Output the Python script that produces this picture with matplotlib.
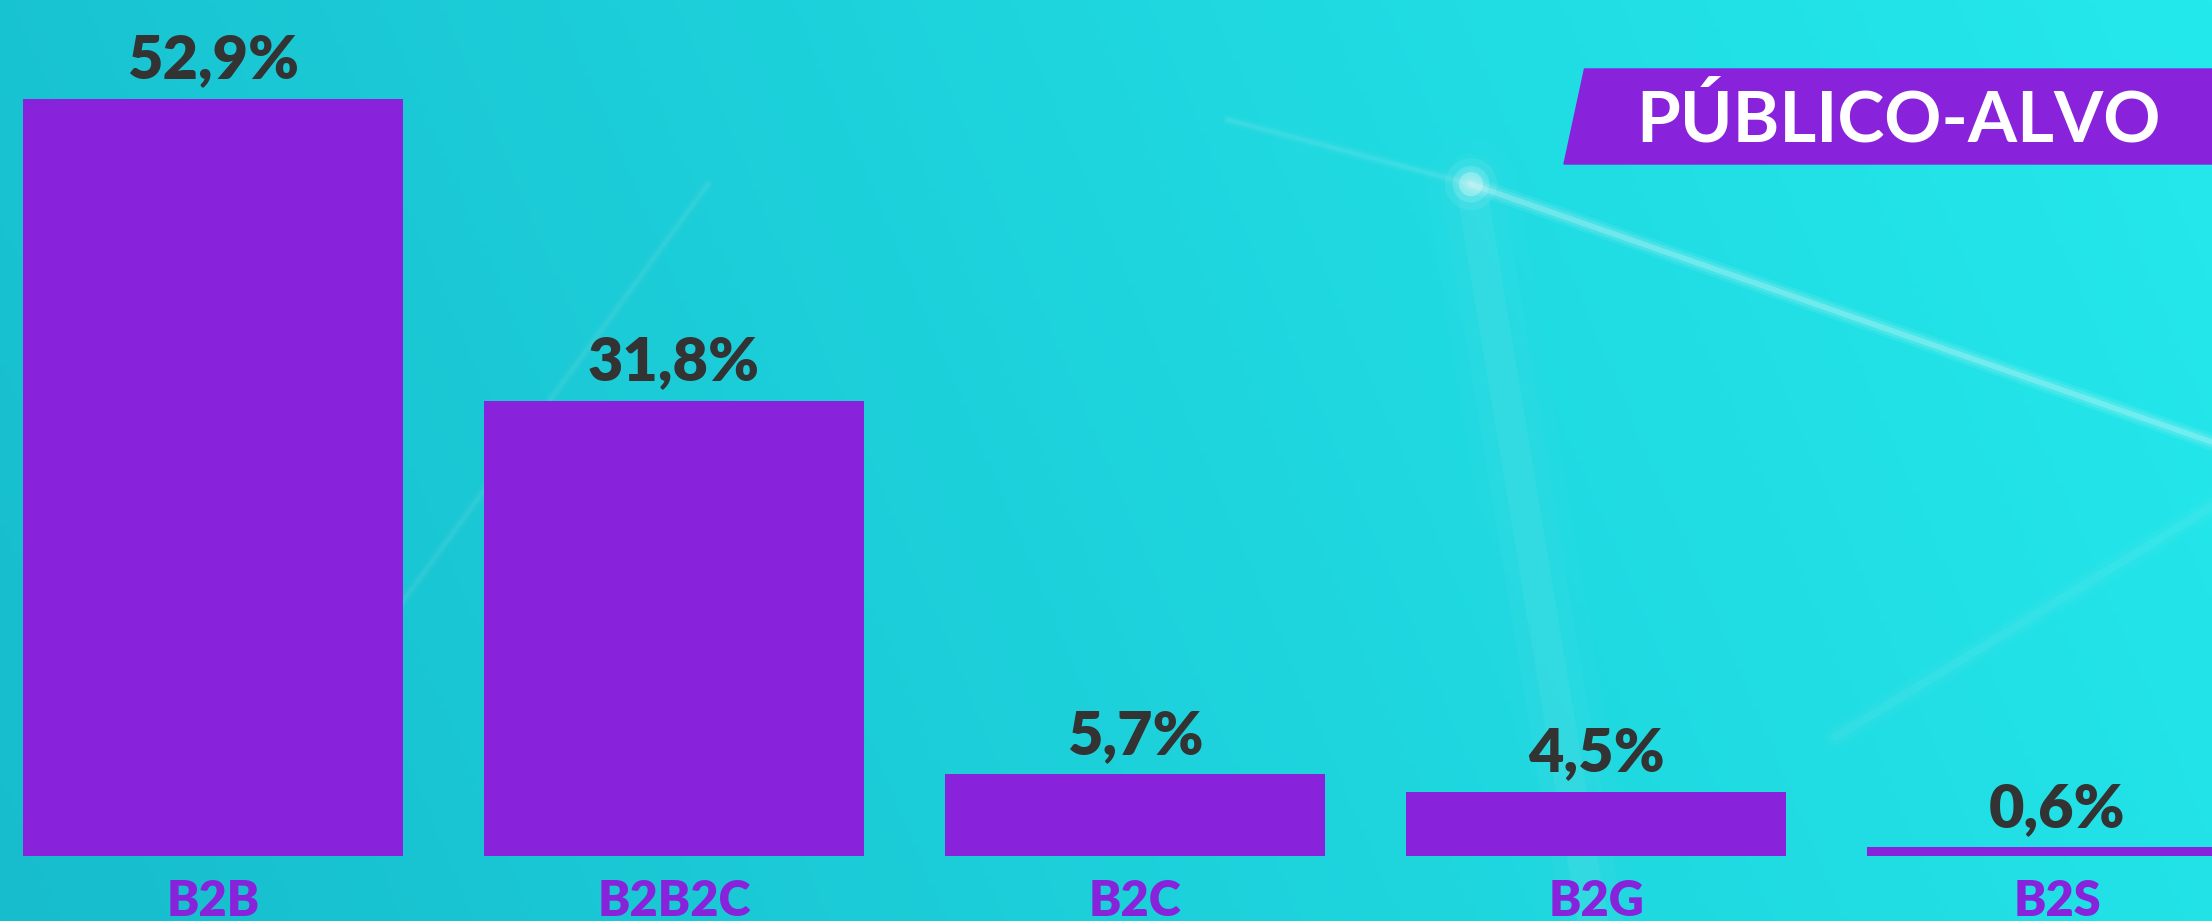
import numpy as np
import matplotlib
matplotlib.use("Agg")
from matplotlib import pyplot as plt
from matplotlib.patches import Polygon

categories = ["B2B", "B2B2C", "B2C", "B2G", "B2S"]
values = [52.9, 31.8, 5.7, 4.5, 0.6]
value_labels = ["52,9%", "31,8%", "5,7%", "4,5%", "0,6%"]
title = "PÚBLICO-ALVO"

purple = "#8823DB"
dark = "#333333"

W, H = 2212, 921
fig = plt.figure(figsize=(W / 100, H / 100), dpi=100)

# background: cyan gradient with a few soft light streaks
bg = fig.add_axes([0, 0, 1, 1], zorder=0)
left = np.array([0x17, 0xBD, 0xCD]) / 255
right = np.array([0x24, 0xE9, 0xEC]) / 255
gx = np.linspace(0, 1, 400)[None, :, None]
gy = np.linspace(0, 1, 200)[:, None, None]
img = left + (right - left) * np.clip(gx * 0.85 + gy * 0.15, 0, 1)
bg.imshow(img, extent=[0, 1, 0, 1], aspect="auto", origin="lower")
bg.set_xlim(0, 1)
bg.set_ylim(0, 1)
bg.axis("off")
streaks = [((0.665, 0.80), (1.0, 0.52), 4, 0.22),
           ((0.665, 0.80), (0.72, 0.0), 22, 0.05),
           ((0.665, 0.80), (0.555, 0.87), 3, 0.07),
           ((0.18, 0.34), (0.32, 0.80), 3, 0.05),
           ((1.0, 0.45), (0.83, 0.20), 6, 0.05)]
for (x0, y0), (x1, y1), lw, a in streaks:
    for k in (3.0, 2.0, 1.0):
        bg.plot([x0, x1], [y0, y1], color="white", lw=lw * k, alpha=a / k,
                solid_capstyle="round")
for s, a in ((1400, 0.08), (700, 0.15), (300, 0.3)):
    bg.scatter([0.665], [0.80], s=s, color="white", alpha=a, edgecolors="none")

ax = fig.add_axes([0, 0, 1, 1], zorder=1)
ax.patch.set_alpha(0)
x = np.arange(len(categories))
ax.bar(x, values, width=0.826, color=purple)
ax.set_xlim(-0.462, 4.336)
ax.set_ylim(-4.54, 59.8)
ax.axis("off")

for xi, v, lab in zip(x, values, value_labels):
    ax.annotate(lab, (xi, v), xytext=(0, 15), textcoords="offset points",
                ha="center", va="baseline", fontsize=44, fontweight="heavy",
                family="Lato", color=dark)
for xi, cat in zip(x, categories):
    ax.annotate(cat, (xi, 0), xytext=(0, -43), textcoords="offset points",
                ha="center", va="baseline", fontsize=35, fontweight="heavy",
                family="Lato", color=purple)

# title badge
box = Polygon([(1564 / W, 1 - 164 / H), (1584.5 / W, 1 - 69 / H),
               (1.0, 1 - 69 / H), (1.0, 1 - 164 / H)],
              closed=True, transform=fig.transFigure, color=purple, zorder=2)
fig.patches.append(box)
fig.text(1899 / W, 1 - 141 / H, title, ha="center", va="baseline",
         fontsize=51, fontweight="bold", family="Lato", color="white", zorder=3)

fig.savefig("out.png", dpi=100)
